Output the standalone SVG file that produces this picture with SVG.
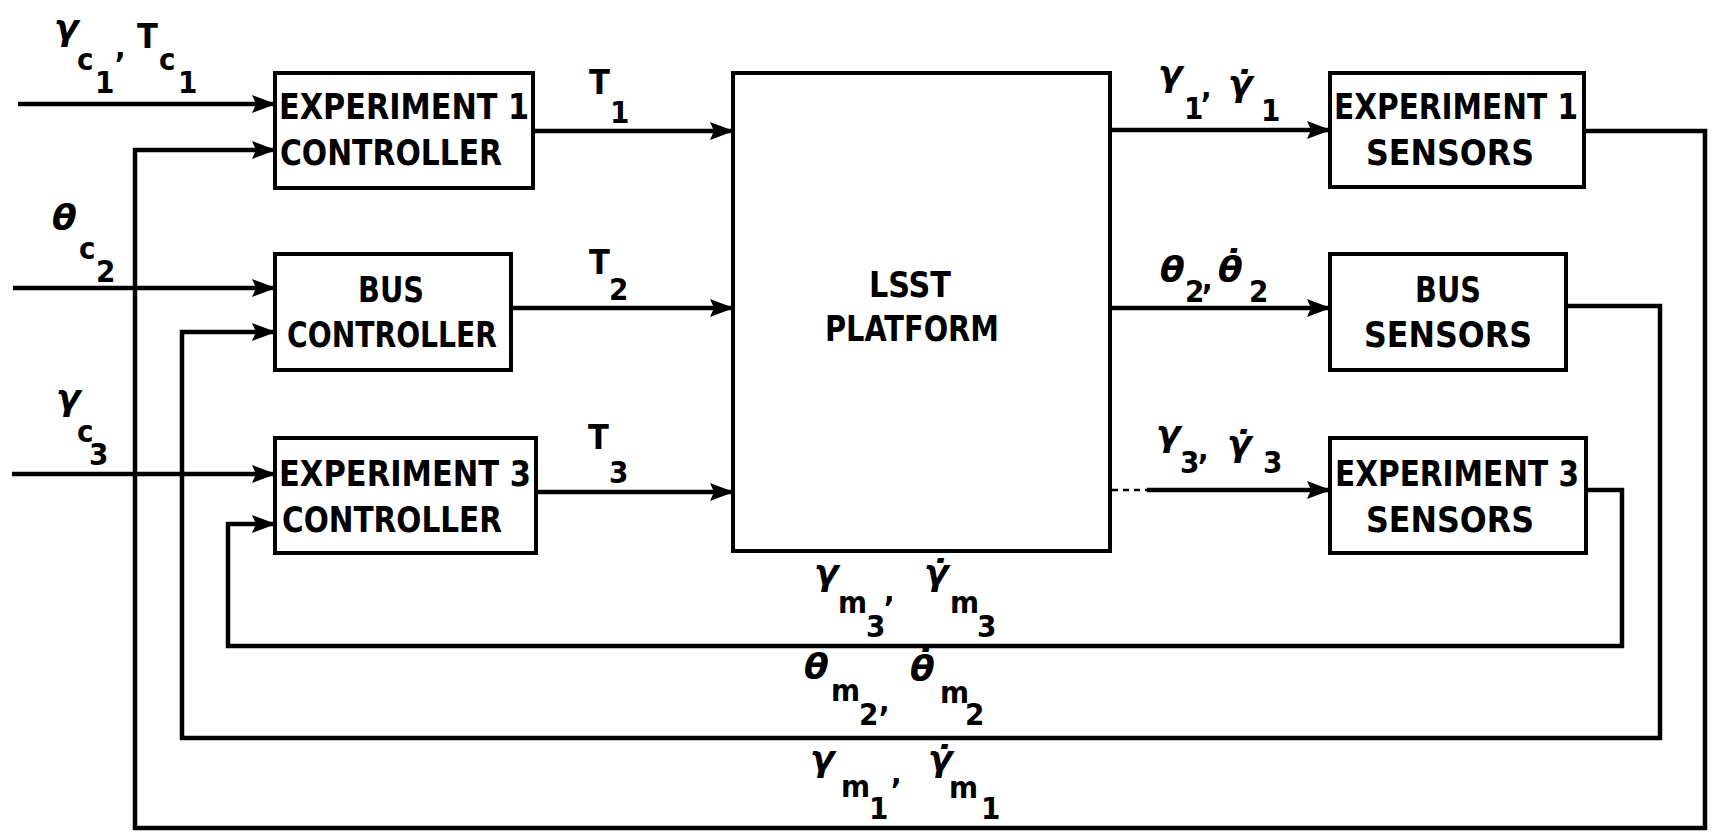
<svg xmlns="http://www.w3.org/2000/svg" width="1716" height="832" viewBox="0 0 1716 832">
<style>
.bg{fill:#fff}
.box{fill:#fff;stroke:#000;stroke-width:4}
.wire{fill:none;stroke:#000;stroke-width:4.5;stroke-linejoin:miter}
.dash{fill:none;stroke:#000;stroke-width:2.5;stroke-dasharray:6 5}
.bt{font-family:"DejaVu Sans Condensed","DejaVu Sans",sans-serif;font-weight:bold;font-size:36px;fill:#000;text-anchor:middle}
.lbl{font-family:"DejaVu Sans Condensed","DejaVu Sans",sans-serif;font-weight:bold;fill:#000}
.g{font-family:"DejaVu Sans",sans-serif;font-style:italic;font-weight:bold;font-size:36px}
.s{font-size:31px}
.T{font-size:34px}
</style>
<defs>
<marker id="ah" markerUnits="userSpaceOnUse" markerWidth="24" markerHeight="18" refX="23" refY="9" orient="auto">
<path d="M0,0 L24,9 L0,18 L4,9 z" fill="#000"/>
</marker>
</defs>
<rect class="bg" x="0" y="0" width="1716" height="832"/>

<g id="connectors">
<path class="wire" marker-end="url(#ah)" d="M18,104 H275"/>
<path class="wire" marker-end="url(#ah)" d="M1584,131 H1705 V828 H135 V150 H275"/>
<path class="wire" marker-end="url(#ah)" d="M13,288 H275"/>
<path class="wire" marker-end="url(#ah)" d="M1566,306 H1660 V738 H182 V332 H275"/>
<path class="wire" marker-end="url(#ah)" d="M12,474 H275"/>
<path class="wire" marker-end="url(#ah)" d="M1586,490 H1622 V646 H228 V524 H275"/>
<path class="wire" marker-end="url(#ah)" d="M533,131 H733"/>
<path class="wire" marker-end="url(#ah)" d="M511,308 H733"/>
<path class="wire" marker-end="url(#ah)" d="M536,492 H733"/>
<path class="wire" marker-end="url(#ah)" d="M1110,130 H1330"/>
<path class="wire" marker-end="url(#ah)" d="M1110,308 H1330"/>
<path class="dash" d="M1112,490 H1147"/>
<path class="wire" marker-end="url(#ah)" d="M1147,490 H1330"/>
</g>

<g id="exp1-controller">
<rect class="box" x="275" y="73" width="258" height="115"/>
<text class="bt" x="404" y="119" textLength="250" lengthAdjust="spacingAndGlyphs">EXPERIMENT 1</text>
<text class="bt" x="391" y="165" textLength="222" lengthAdjust="spacingAndGlyphs">CONTROLLER</text>
</g>
<g id="bus-controller">
<rect class="box" x="275" y="254" width="236" height="116"/>
<text class="bt" x="391" y="302" textLength="66" lengthAdjust="spacingAndGlyphs">BUS</text>
<text class="bt" x="392" y="347" textLength="210" lengthAdjust="spacingAndGlyphs">CONTROLLER</text>
</g>
<g id="exp3-controller">
<rect class="box" x="275" y="438" width="261" height="115"/>
<text class="bt" x="405" y="486" textLength="252" lengthAdjust="spacingAndGlyphs">EXPERIMENT 3</text>
<text class="bt" x="392" y="532" textLength="220" lengthAdjust="spacingAndGlyphs">CONTROLLER</text>
</g>
<g id="lsst-platform">
<rect class="box" x="733" y="73" width="377" height="478"/>
<text class="bt" x="910" y="297" textLength="82" lengthAdjust="spacingAndGlyphs">LSST</text>
<text class="bt" x="912" y="341" textLength="174" lengthAdjust="spacingAndGlyphs">PLATFORM</text>
</g>
<g id="exp1-sensors">
<rect class="box" x="1330" y="73" width="254" height="114"/>
<text class="bt" x="1456" y="119" textLength="244" lengthAdjust="spacingAndGlyphs">EXPERIMENT 1</text>
<text class="bt" x="1450" y="165" textLength="168" lengthAdjust="spacingAndGlyphs">SENSORS</text>
</g>
<g id="bus-sensors">
<rect class="box" x="1330" y="254" width="236" height="116"/>
<text class="bt" x="1448" y="302" textLength="66" lengthAdjust="spacingAndGlyphs">BUS</text>
<text class="bt" x="1448" y="347" textLength="168" lengthAdjust="spacingAndGlyphs">SENSORS</text>
</g>
<g id="exp3-sensors">
<rect class="box" x="1330" y="438" width="256" height="115"/>
<text class="bt" x="1457" y="486" textLength="244" lengthAdjust="spacingAndGlyphs">EXPERIMENT 3</text>
<text class="bt" x="1450" y="532" textLength="168" lengthAdjust="spacingAndGlyphs">SENSORS</text>
</g>

<g id="labels">
<text class="lbl"><tspan class="g" x="54" y="40">γ</tspan><tspan class="s" x="77" y="70">c</tspan><tspan class="s" x="95" y="93">1</tspan><tspan class="s" x="115" y="58">,</tspan><tspan class="T" x="137" y="48">T</tspan><tspan class="s" x="159" y="70">c</tspan><tspan class="s" x="178" y="93">1</tspan></text>
<text class="lbl"><tspan class="g" x="52" y="230">θ</tspan><tspan class="s" x="79" y="259">c</tspan><tspan class="s" x="96" y="282">2</tspan></text>
<text class="lbl"><tspan class="g" x="56" y="410">γ</tspan><tspan class="s" x="77" y="442">c</tspan><tspan class="s" x="89" y="465">3</tspan></text>

<text class="lbl"><tspan class="T" x="589" y="94">T</tspan><tspan class="s" x="610" y="123">1</tspan></text>
<text class="lbl"><tspan class="T" x="589" y="274">T</tspan><tspan class="s" x="609" y="300">2</tspan></text>
<text class="lbl"><tspan class="T" x="588" y="449">T</tspan><tspan class="s" x="609" y="483">3</tspan></text>

<text class="lbl"><tspan class="g" x="1158" y="86">γ</tspan><tspan class="s" x="1184" y="119">1</tspan><tspan class="s" x="1201" y="98">,</tspan><tspan class="g" x="1228" y="96">γ̇</tspan><tspan class="s" x="1261" y="121">1</tspan></text>
<text class="lbl"><tspan class="g" x="1160" y="282">θ</tspan><tspan class="s" x="1185" y="302">2</tspan><tspan class="s" x="1202" y="290">,</tspan><tspan class="g" x="1218" y="282">θ̇</tspan><tspan class="s" x="1249" y="302">2</tspan></text>
<text class="lbl"><tspan class="g" x="1156" y="446">γ</tspan><tspan class="s" x="1180" y="473">3</tspan><tspan class="s" x="1198" y="460">,</tspan><tspan class="g" x="1227" y="456">γ̇</tspan><tspan class="s" x="1263" y="473">3</tspan></text>

<text class="lbl"><tspan class="g" x="814" y="585">γ</tspan><tspan class="s" x="838" y="613">m</tspan><tspan class="s" x="866" y="637">3</tspan><tspan class="s" x="884" y="602">,</tspan><tspan class="g" x="924" y="585">γ̇</tspan><tspan class="s" x="950" y="613">m</tspan><tspan class="s" x="977" y="637">3</tspan></text>
<text class="lbl"><tspan class="g" x="804" y="679">θ</tspan><tspan class="s" x="831" y="701">m</tspan><tspan class="s" x="859" y="725">2</tspan><tspan class="s" x="879" y="712">,</tspan><tspan class="g" x="910" y="681">θ̇</tspan><tspan class="s" x="940" y="703">m</tspan><tspan class="s" x="965" y="725">2</tspan></text>
<text class="lbl"><tspan class="g" x="810" y="771">γ</tspan><tspan class="s" x="841" y="797">m</tspan><tspan class="s" x="869" y="819">1</tspan><tspan class="s" x="891" y="784">,</tspan><tspan class="g" x="928" y="771">γ̇</tspan><tspan class="s" x="949" y="798">m</tspan><tspan class="s" x="981" y="819">1</tspan></text>
</g>
</svg>
